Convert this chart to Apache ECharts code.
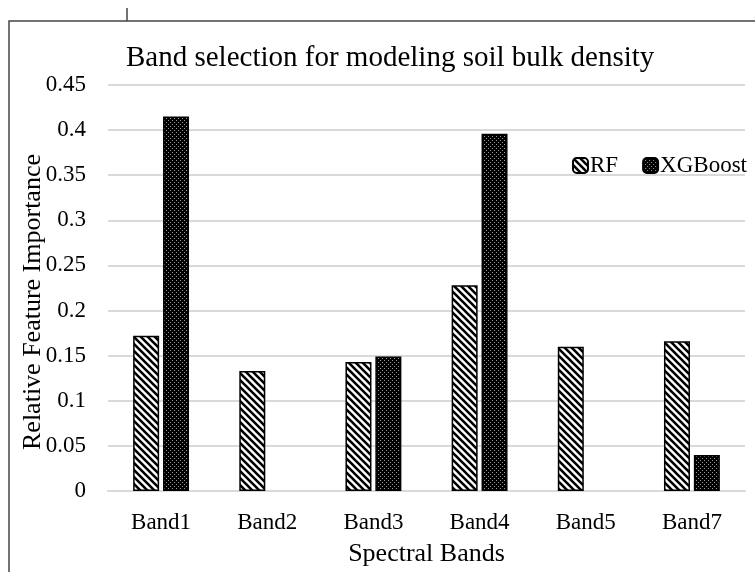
<!DOCTYPE html>
<html>
<head>
<meta charset="utf-8">
<style>
  html, body { margin: 0; padding: 0; background: #fff; }
  #chart { width: 755px; height: 572px; }
</style>
<script src="https://cdn.jsdelivr.net/npm/echarts@6/dist/echarts.min.js"></script>
</head>
<body>
<div id="chart"></div>
<script>
// Spectral bands and relative feature importance per model
const bands = ['Band1', 'Band2', 'Band3', 'Band4', 'Band5', 'Band7'];
const rfImportance = [0.172, 0.133, 0.143, 0.228, 0.160, 0.166];
const xgbImportance = [0.415, 0, 0.149, 0.396, 0, 0.040];
const yTicks = { min: 0, max: 0.45, step: 0.05 };

const SERIF = '"Liberation Serif", "Times New Roman", serif';

// Diagonal hatch (white ground, black stripes running down to the right)
function hatchPattern() {
  const p = 7;
  const c = document.createElement('canvas');
  c.width = p; c.height = p;
  const g = c.getContext('2d');
  g.fillStyle = '#fff';
  g.fillRect(0, 0, p, p);
  g.strokeStyle = '#000';
  g.lineWidth = 2.6;
  g.beginPath();
  g.moveTo(-1, -1); g.lineTo(p + 1, p + 1);
  g.moveTo(-1, p - 1); g.lineTo(1, p + 1);
  g.moveTo(p - 1, -1); g.lineTo(p + 1, 1);
  g.stroke();
  return c;
}

// Dense dot pattern (black ground, small light dots)
function dotPattern() {
  const p = 4;
  const c = document.createElement('canvas');
  c.width = p; c.height = p;
  const g = c.getContext('2d');
  g.fillStyle = '#000';
  g.fillRect(0, 0, p, p);
  g.fillStyle = '#9a9a9a';
  g.fillRect(0, 0, 1, 1);
  g.fillRect(2, 2, 1, 1);
  return c;
}

// Zero-valued bars get no outline so nothing shows on the baseline
function barData(values) {
  return values.map(v => ({ value: v, itemStyle: v === 0 ? { borderWidth: 0 } : {} }));
}

const chart = echarts.init(document.getElementById('chart'), null, { renderer: 'canvas' });

chart.setOption({
  backgroundColor: '#fff',
  animation: false,
  title: {
    text: 'Band selection for modeling soil bulk density',
    left: 121,
    top: 39,
    textStyle: { fontFamily: SERIF, fontSize: 29, fontWeight: 'normal', color: '#000' }
  },
  legend: {
    right: 8,
    top: 154,
    padding: 0,
    itemWidth: 15,
    itemHeight: 15,
    itemGap: 24,
    textStyle: { fontFamily: SERIF, fontSize: 23, color: '#000', padding: [0, 0, 0, -3] },
    data: ['RF', 'XGBoost']
  },
  grid: { left: 108, right: 10, top: 85, bottom: 81, containLabel: false },
  xAxis: {
    type: 'category',
    data: bands,
    name: 'Spectral Bands',
    nameLocation: 'middle',
    nameGap: 50,
    nameTextStyle: { fontFamily: SERIF, fontSize: 26, color: '#000' },
    axisLine: { show: true, lineStyle: { color: '#d9d9d9', width: 2 } },
    axisTick: { show: false },
    axisLabel: { fontFamily: SERIF, fontSize: 23, color: '#000', margin: 20 }
  },
  yAxis: {
    type: 'value',
    min: yTicks.min,
    max: yTicks.max,
    interval: yTicks.step,
    name: 'Relative Feature Importance',
    nameLocation: 'middle',
    nameGap: 62,
    nameMoveOverlap: false,
    nameTextStyle: { fontFamily: SERIF, fontSize: 26, color: '#000', padding: [0, 28, 0, 0] },
    axisLine: { show: false },
    axisTick: { show: false },
    axisLabel: {
      fontFamily: SERIF, fontSize: 23, color: '#000', margin: 22,
      formatter: v => String(parseFloat(v.toFixed(2)))
    },
    splitLine: { lineStyle: { color: '#d9d9d9', width: 2 } }
  },
  graphic: [
    {
      type: 'rect',
      shape: { x: 9, y: 21, width: 760, height: 570 },
      style: { fill: 'none', stroke: '#444', lineWidth: 1.5 },
      silent: true
    },
    {
      type: 'line',
      shape: { x1: 127, y1: 8, x2: 127, y2: 21 },
      style: { stroke: '#444', lineWidth: 1.5 },
      silent: true
    }
  ],
  series: [
    {
      name: 'RF',
      type: 'bar',
      data: barData(rfImportance),
      barWidth: 26,
      barGap: '15%',
      itemStyle: {
        color: { image: hatchPattern(), repeat: 'repeat' },
        borderColor: '#000',
        borderWidth: 1.5
      }
    },
    {
      name: 'XGBoost',
      type: 'bar',
      data: barData(xgbImportance),
      barWidth: 26,
      itemStyle: {
        color: { image: dotPattern(), repeat: 'repeat' },
        borderColor: '#000',
        borderWidth: 1.5
      }
    }
  ]
});
</script>
</body>
</html>
